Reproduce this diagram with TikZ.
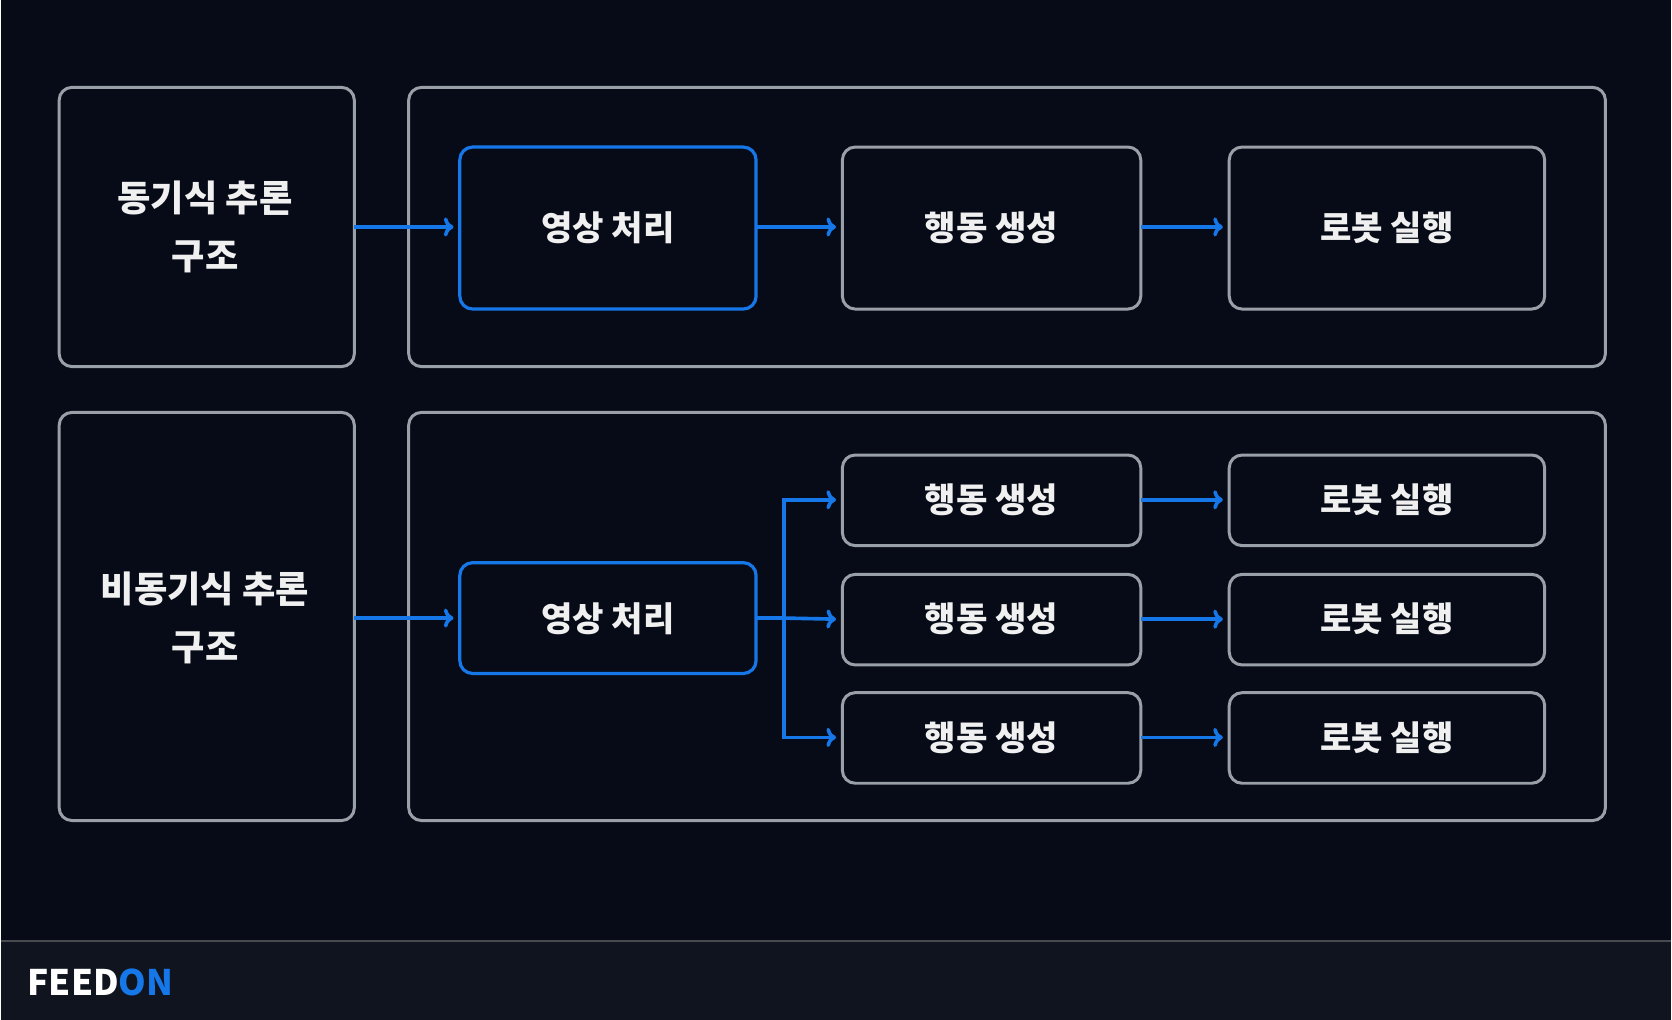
\documentclass[tikz,border=0pt]{standalone}
\usepackage{fontspec}
\setmainfont{Noto Sans CJK KR}
\usetikzlibrary{arrows.meta}
\definecolor{bg}{HTML}{060B17}
\definecolor{foot}{HTML}{0F141E}
\definecolor{edge}{HTML}{9AA0A8}
\definecolor{acc}{HTML}{1577E8}
\begin{document}
\begin{tikzpicture}[x=1pt,y=-1pt,
  box/.style={draw=edge,line width=2.8pt,rounded corners=12pt,fill=bg},
  blu/.style={draw=acc,line width=3pt,rounded corners=12pt},
  lbl/.style={text=white!88!gray,font=\fontsize{32}{52}\selectfont\bfseries,align=center},
  big/.style={lbl,font=\fontsize{34}{54}\selectfont\bfseries},
  arr/.style={draw=acc,line width=3.4pt,-{To[length=9pt,width=18pt]}}]
\fill[bg] (0,0) rectangle (1568,957);
\fill[foot] (0,883) rectangle (1568,957);
\draw[gray!50!foot,line width=1pt] (0,883) -- (1568,883);
\node[anchor=west,font=\fontsize{33}{36}\selectfont\bfseries] (logo) at (22,922) {\color{white}FEED\color{acc}ON};
% top
\draw[box] (55,82) rectangle (332,344);
\node[big] (t1) at (192,213) {동기식 추론\\구조};
\draw[box] (383,82) rectangle (1506,344);
\draw[blu] (431,138) rectangle (709,290);
\node[lbl] (ta) at (570,214) {영상 처리};
\draw[box] (790,138) rectangle (1070,290);
\node[lbl] (tb) at (930,214) {행동 생성};
\draw[box] (1153,138) rectangle (1449,290);
\node[lbl] (tc) at (1301,214) {로봇 실행};
\coordinate (a1) at (332,213); \coordinate (a2) at (425,213);
\coordinate (b1) at (709,213); \coordinate (b2) at (784,213);
\coordinate (c1) at (1070,213); \coordinate (c2) at (1147,213);
\draw[arr] (a1) -- (a2); \draw[arr] (b1) -- (b2); \draw[arr] (c1) -- (c2);
% bottom
\draw[box] (55,387) rectangle (332,770);
\node[big] (l2) at (192,580) {비동기식 추론\\구조};
\draw[box] (383,387) rectangle (1506,770);
\draw[blu] (431,528) rectangle (709,632);
\node[lbl] (va) at (570,581) {영상 처리};
\coordinate (d1) at (332,580); \coordinate (d2) at (425,580);
\draw[arr] (d1) -- (d2);
\coordinate (br) at (735,580);
\foreach \y/\t [count=\i] in {469/a,581/b,692/c}{
  \draw[box] (790,\y-42) rectangle (1070,\y+43);
  \node[lbl] (g\i) at (930,\y) {행동 생성};
  \draw[box] (1153,\y-42) rectangle (1449,\y+43);
  \node[lbl] (r\i) at (1301,\y) {로봇 실행};
  \coordinate (e\i) at (784,\y);
  \coordinate (f\i) at (1070,\y); \coordinate (h\i) at (1147,\y);
  \draw[arr] (f\i) -- (h\i);
}
\coordinate (o1) at (709,580);
\draw[acc,line width=3.4pt] (o1) -- (br);
\draw[arr] (br) |- (e1); \draw[arr] (br) -- (e2); \draw[arr] (br) |- (e3);
\end{tikzpicture}
\end{document}
